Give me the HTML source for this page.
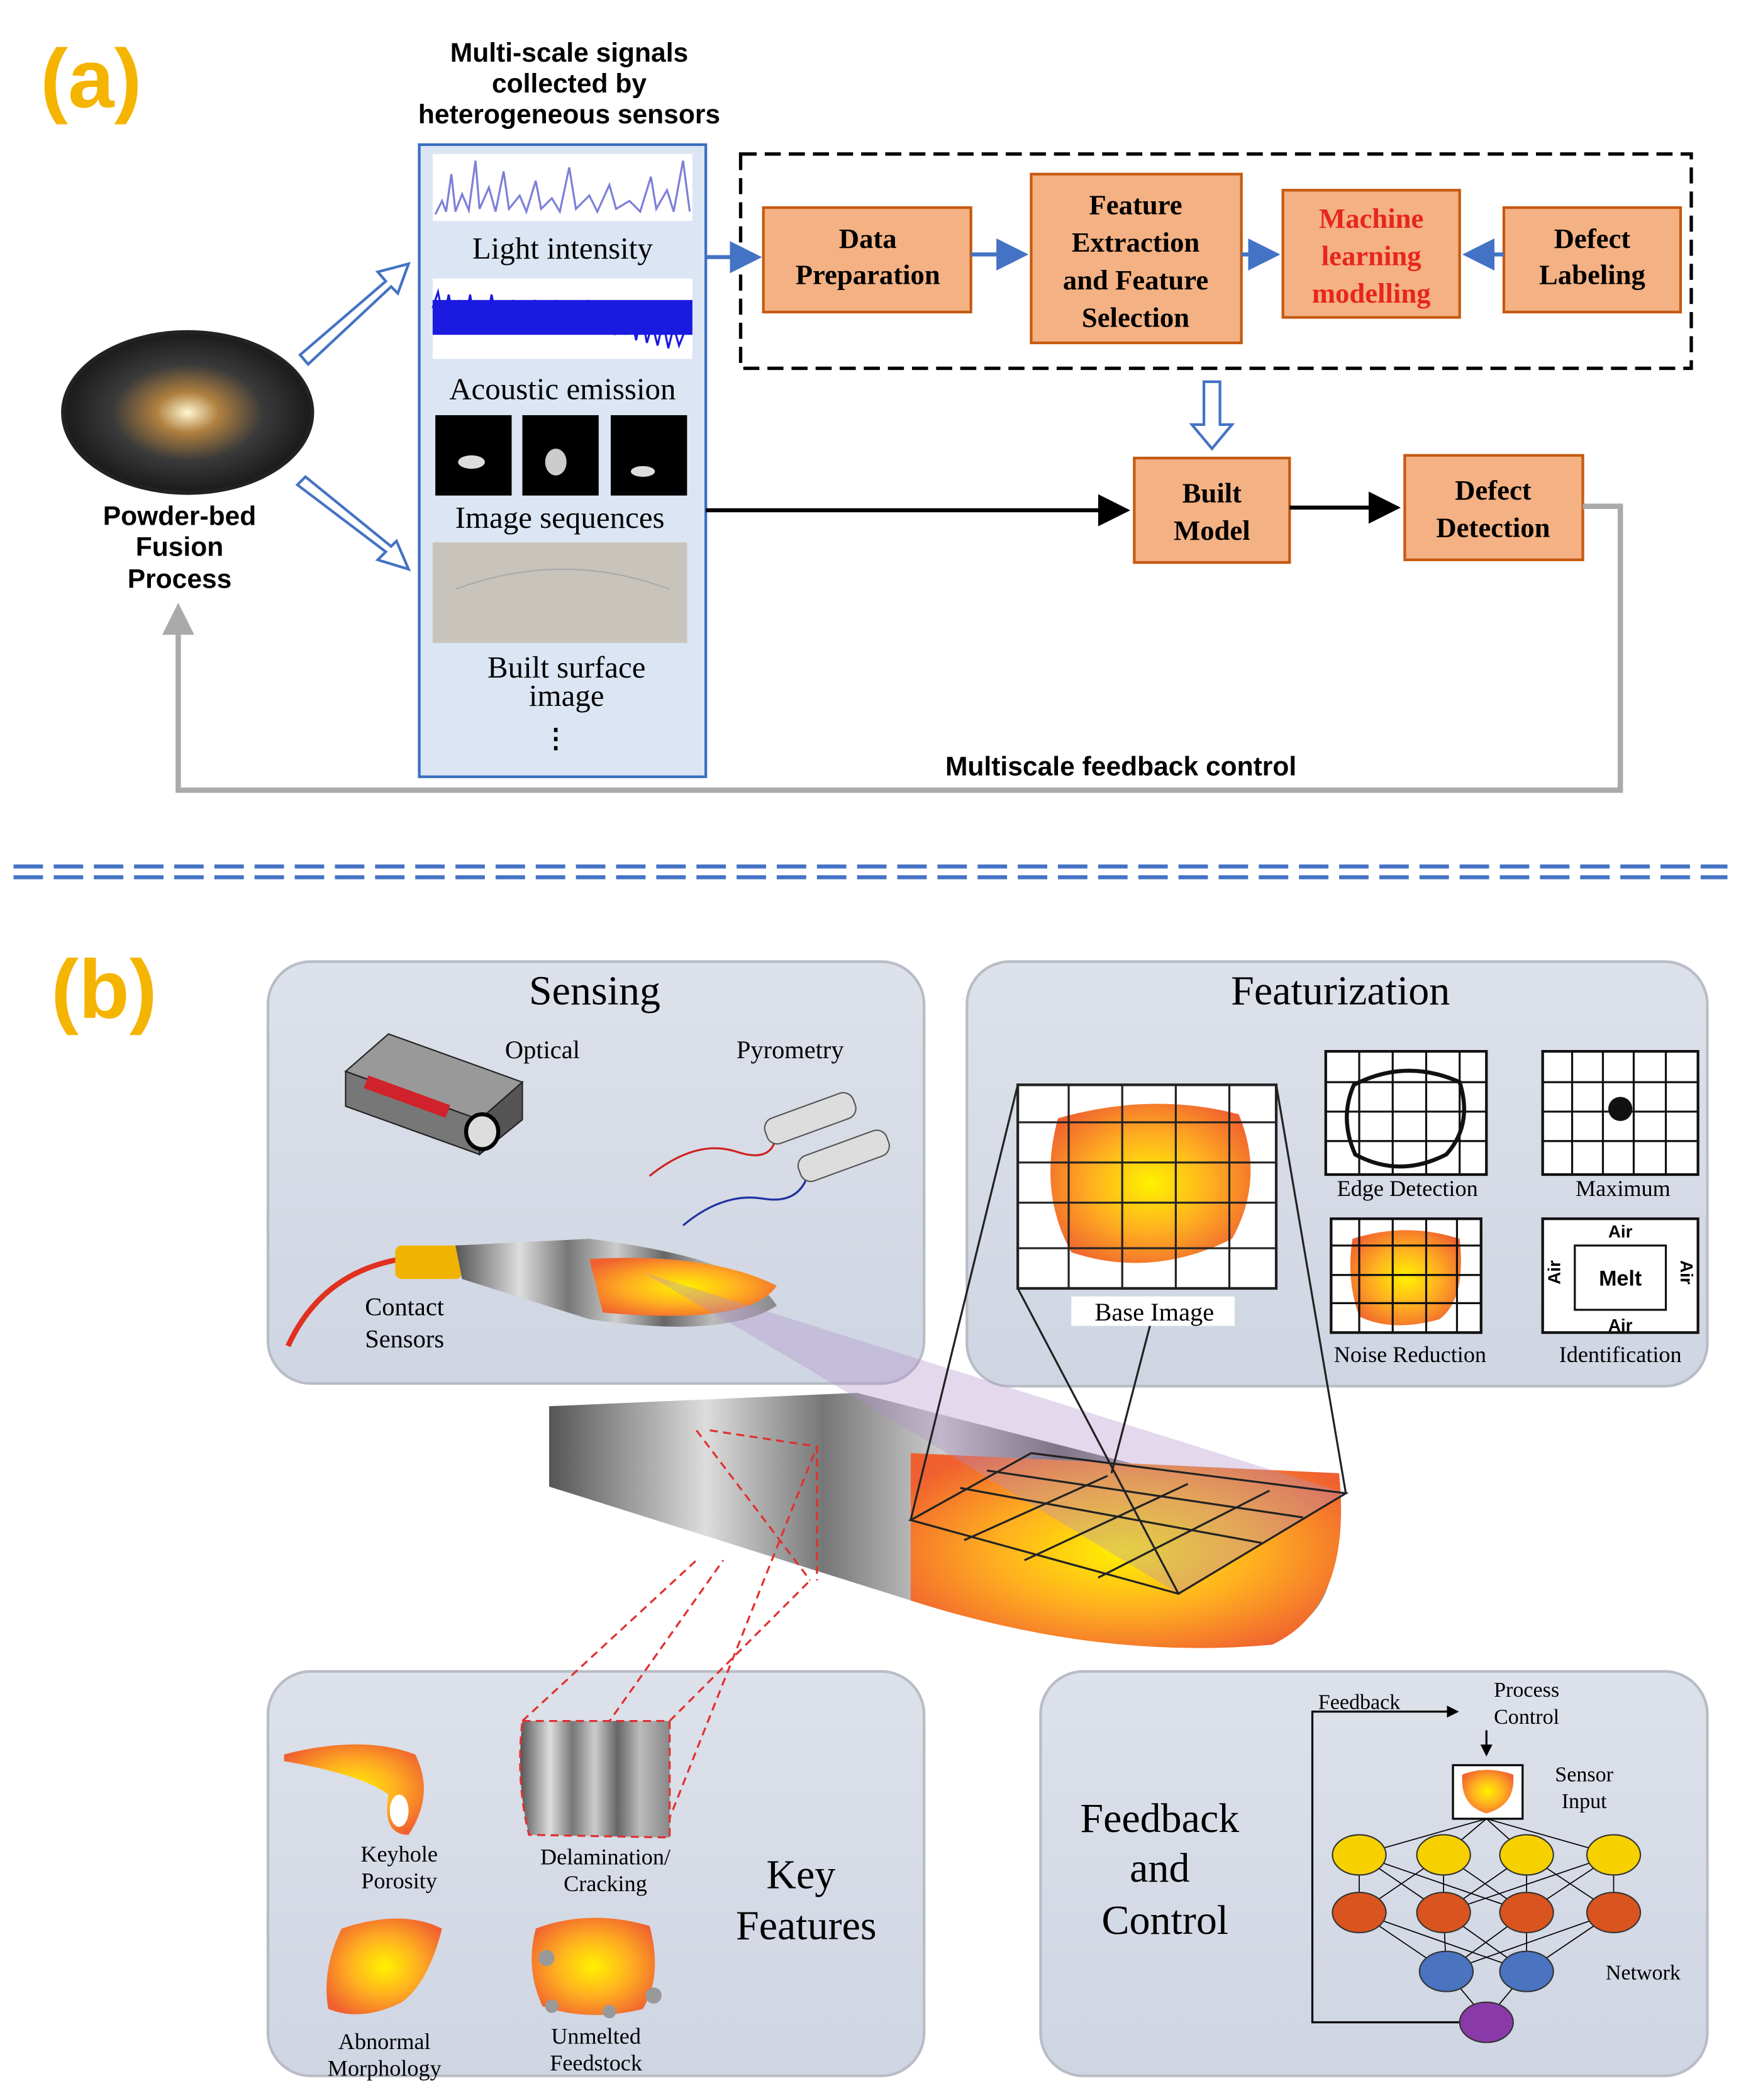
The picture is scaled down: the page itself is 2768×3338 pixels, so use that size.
<!DOCTYPE html>
<html><head><meta charset="utf-8"><style>html,body{margin:0;padding:0;background:#fff}svg{display:block}</style></head><body>
<svg width="2768" height="3338" viewBox="0 0 1300 1568" xmlns="http://www.w3.org/2000/svg" font-family="Liberation Serif, serif">
<defs>
<radialGradient id="melt" cx="50%" cy="50%" r="60%"><stop offset="0" stop-color="#fff200"/><stop offset="0.5" stop-color="#ffb020"/><stop offset="1" stop-color="#f06030"/></radialGradient>
<linearGradient id="track" x1="0" y1="0" x2="1" y2="0"><stop offset="0" stop-color="#555"/><stop offset="0.2" stop-color="#ddd"/><stop offset="0.35" stop-color="#777"/><stop offset="0.5" stop-color="#ccc"/><stop offset="0.65" stop-color="#666"/><stop offset="0.8" stop-color="#bbb"/><stop offset="1" stop-color="#888"/></linearGradient>
<linearGradient id="panel" x1="0" y1="0" x2="0" y2="1"><stop offset="0" stop-color="#dde1ea"/><stop offset="1" stop-color="#cfd5e2"/></linearGradient>
<radialGradient id="spark" cx="50%" cy="50%" r="50%"><stop offset="0" stop-color="#fff6d0"/><stop offset="0.25" stop-color="#b08040"/><stop offset="0.6" stop-color="#3a3a3a"/><stop offset="1" stop-color="#1a1a1a"/></radialGradient>
<marker id="ab" markerWidth="8" markerHeight="8" refX="6" refY="4" orient="auto"><path d="M0,0 L8,4 L0,8z" fill="#4472c4"/></marker>
<marker id="ak" markerWidth="8" markerHeight="8" refX="6" refY="4" orient="auto"><path d="M0,0 L8,4 L0,8z" fill="#000"/></marker>
<marker id="ag" markerWidth="6" markerHeight="6" refX="3" refY="3" orient="auto"><path d="M0,0 L6,3 L0,6z" fill="#aaa"/></marker>
<marker id="ak2" markerWidth="6" markerHeight="6" refX="5" refY="3" orient="auto"><path d="M0,0 L6,3 L0,6z" fill="#000"/></marker>
</defs>

<text x="30" y="80" font-family="Liberation Sans, sans-serif" font-weight="bold" font-size="62" fill="#f5b400">(a)</text>
<g font-family="Liberation Sans, sans-serif" font-weight="bold" font-size="20" text-anchor="middle">
<text x="425" y="46">Multi-scale signals</text><text x="425" y="69">collected by</text><text x="425" y="92">heterogeneous sensors</text>
</g>
<rect x="313" y="108" width="214" height="472" fill="#dbe5f3" stroke="#3a6fc0" stroke-width="2"/>
<rect x="323" y="115" width="194" height="50" fill="#fff"/>
<path d="M325,160 L330,150 L333,158 L337,130 L340,158 L345,145 L350,157 L355,120 L358,156 L365,140 L370,158 L376,128 L380,156 L388,146 L393,158 L400,135 L404,156 L412,148 L418,158 L425,125 L430,156 L440,146 L446,158 L455,138 L460,156 L470,150 L478,158 L486,132 L490,156 L498,142 L503,158 L510,120 L515,158" fill="none" stroke="#7b80d8" stroke-width="1.5"/>
<text x="420" y="193" font-size="23" text-anchor="middle">Light intensity</text>
<rect x="323" y="208" width="194" height="60" fill="#fff"/>
<rect x="323" y="224" width="194" height="26" fill="#1a1ae0"/>
<path d="M323,230 l4,-12 l4,20 l4,-18 l4,22 l4,-16 l4,14 l4,-20 l4,24 l4,-18 l4,16 l4,-22 l4,20 l4,-14 l4,18 l4,-20 l4,22 l4,-16 l4,12 l4,-18 l4,20 l4,-14 l4,16 l4,-22 l4,24 l4,-20 l4,14 l4,-16 l4,18 l4,-20 l4,22 l4,-14 l4,16 l4,-18 l4,20 l4,-16 l4,14 l4,-12 l4,18 l4,-20 l4,22 l4,-14 l4,16 l4,-18 l4,20 l4,-16 l4,14 l4,-10" fill="none" stroke="#1a1ae0" stroke-width="1.5"/>
<text x="420" y="298" font-size="23" text-anchor="middle">Acoustic emission</text>
<rect x="325" y="310" width="57" height="60" fill="#000"/><ellipse cx="352" cy="345" rx="10" ry="5" fill="#ddd"/>
<rect x="390" y="310" width="57" height="60" fill="#000"/><ellipse cx="415" cy="345" rx="8" ry="10" fill="#ccc"/>
<rect x="456" y="310" width="57" height="60" fill="#000"/><ellipse cx="480" cy="352" rx="9" ry="4" fill="#ddd"/>
<text x="418" y="394" font-size="23" text-anchor="middle">Image sequences</text>
<rect x="323" y="405" width="190" height="75" fill="#c8c4bc"/>
<path d="M340,440 Q420,410 500,440" fill="none" stroke="#aaa"/>
<text x="423" y="506" font-size="23" text-anchor="middle">Built surface</text>
<text x="423" y="527" font-size="23" text-anchor="middle">image</text>
<text x="415" y="558" font-size="20" text-anchor="middle" font-weight="bold">⋮</text>

<rect x="553" y="115" width="710" height="160" fill="none" stroke="#000" stroke-width="2.5" stroke-dasharray="12,6"/>
<g fill="#f4b183" stroke="#c55a11" stroke-width="2">
<rect x="570" y="155" width="155" height="78"/><rect x="770" y="130" width="157" height="126"/>
<rect x="958" y="142" width="132" height="95"/><rect x="1123" y="155" width="132" height="78"/>
<rect x="847" y="342" width="116" height="78"/><rect x="1049" y="340" width="133" height="78"/>
</g>
<g font-weight="bold" font-size="21" text-anchor="middle">
<text x="648" y="185">Data</text><text x="648" y="212">Preparation</text>
<text x="848" y="160">Feature</text><text x="848" y="188">Extraction</text><text x="848" y="216">and Feature</text><text x="848" y="244">Selection</text>
<text x="1024" y="170" fill="#e8251f">Machine</text><text x="1024" y="198" fill="#e8251f">learning</text><text x="1024" y="226" fill="#e8251f">modelling</text>
<text x="1189" y="185">Defect</text><text x="1189" y="212">Labeling</text>
<text x="905" y="375">Built</text><text x="905" y="403">Model</text>
<text x="1115" y="373">Defect</text><text x="1115" y="401">Detection</text>
</g>
<g stroke="#4472c4" stroke-width="3" marker-end="url(#ab)">
<line x1="527" y1="192" x2="563" y2="192"/><line x1="725" y1="190" x2="762" y2="190"/>
<line x1="927" y1="190" x2="950" y2="190"/><line x1="1123" y1="190" x2="1098" y2="190"/>
</g>
<path d="M899,285 h12 v32 h9 l-15,18 l-15,-18 h9z" fill="#fff" stroke="#4472c4" stroke-width="2"/>
<line x1="527" y1="381" x2="838" y2="381" stroke="#000" stroke-width="3" marker-end="url(#ak)"/>
<line x1="963" y1="379" x2="1040" y2="379" stroke="#000" stroke-width="3" marker-end="url(#ak)"/>
<path d="M1182,378 H1210 V590 H133 V462" fill="none" stroke="#aaa" stroke-width="4" marker-end="url(#ag)"/>
<text x="837" y="579" font-family="Liberation Sans, sans-serif" font-weight="bold" font-size="20" text-anchor="middle">Multiscale feedback control</text>
<ellipse cx="140" cy="308" rx="93" ry="60" fill="url(#spark)" stroke="#222" stroke-width="3"/>
<g font-family="Liberation Sans, sans-serif" font-weight="bold" font-size="20" text-anchor="middle">
<text x="134" y="392">Powder-bed</text><text x="134" y="415">Fusion</text><text x="134" y="439">Process</text></g>
<path d="M224,265 L288,210 L282,203 L305,197 L297,219 L292,214 L230,272z" fill="#fff" stroke="#4472c4" stroke-width="2"/>
<path d="M222,362 L288,412 L282,418 L305,425 L296,404 L292,408 L228,356z" fill="#fff" stroke="#4472c4" stroke-width="2"/>

<line x1="10" y1="647" x2="1290" y2="647" stroke="#4472c4" stroke-width="3" stroke-dasharray="22,8"/>
<line x1="10" y1="655" x2="1290" y2="655" stroke="#4472c4" stroke-width="3" stroke-dasharray="22,8"/>

<text x="38" y="760" font-family="Liberation Sans, sans-serif" font-weight="bold" font-size="62" fill="#f5b400">(b)</text>
<g fill="url(#panel)" stroke="#b8bcc6" stroke-width="2">
<rect x="200" y="718" width="490" height="315" rx="32"/>
<rect x="722" y="718" width="553" height="317" rx="32"/>
<rect x="200" y="1248" width="490" height="302" rx="32"/>
<rect x="777" y="1248" width="498" height="302" rx="32"/>
</g>
<text x="444" y="750" font-size="31" text-anchor="middle">Sensing</text>
<text x="1001" y="750" font-size="31" text-anchor="middle">Featurization</text>
<text x="405" y="790" font-size="19" text-anchor="middle">Optical</text>
<text x="590" y="790" font-size="19" text-anchor="middle">Pyrometry</text>
<path d="M258,800 L290,772 L390,808 L358,836z" fill="#999" stroke="#222"/>
<path d="M258,800 L358,836 L358,862 L258,826z" fill="#777" stroke="#222"/>
<path d="M358,836 L390,808 L390,836 L358,862z" fill="#555" stroke="#222"/>
<rect x="275" y="803" width="65" height="10" fill="#d0222a" transform="rotate(20 275 803)"/>
<ellipse cx="360" cy="845" rx="12" ry="13" fill="#ddd" stroke="#000" stroke-width="3"/>
<path d="M485,878 Q520,850 550,860 T580,842" fill="none" stroke="#d02020" stroke-width="1.5"/>
<path d="M510,915 Q540,890 570,895 T605,870" fill="none" stroke="#2030a0" stroke-width="1.5"/>
<rect x="570" y="825" width="70" height="20" rx="8" fill="#ddd" stroke="#555" transform="rotate(-20 605 835)"/>
<rect x="595" y="853" width="70" height="20" rx="8" fill="#ddd" stroke="#555" transform="rotate(-20 630 863)"/>
<path d="M215,1005 Q240,950 300,940" fill="none" stroke="#e03020" stroke-width="4"/>
<rect x="295" y="930" width="50" height="25" rx="5" fill="#f0b400"/>
<text x="302" y="982" font-size="19" text-anchor="middle">Contact</text>
<text x="302" y="1006" font-size="19" text-anchor="middle">Sensors</text>

<path d="M340,930 L440,925 Q560,940 580,975 Q540,1000 440,985 L345,955z" fill="url(#track)"/>
<path d="M440,940 Q530,935 580,960 Q560,990 450,980z" fill="url(#melt)"/>
<path d="M410,1050 L640,1040 L990,1130 Q1010,1200 950,1225 Q820,1240 680,1195 L410,1110z" fill="url(#track)"/>
<path d="M680,1085 L1000,1100 Q1010,1200 950,1228 Q820,1240 680,1195z" fill="url(#melt)"/>
<path d="M480,950 L1005,1115 L880,1190 L600,1020z" fill="#b090c8" opacity="0.35"/>
<g stroke="#222" stroke-width="1.5" fill="none">
<path d="M770,1085 L1005,1115 L880,1190 L680,1135z"/>
<path d="M717,1111 L942,1152 M737,1098 L973,1133 M827,1102 L720,1150 M887,1108 L765,1165 M948,1113 L820,1178"/>
<line x1="760" y1="810" x2="680" y2="1135"/><line x1="953" y1="810" x2="1005" y2="1115"/>
<line x1="760" y1="962" x2="880" y2="1190"/><line x1="860" y1="985" x2="830" y2="1100"/>
</g>
<g stroke="#e03030" stroke-width="1.5" fill="none" stroke-dasharray="6,4">
<path d="M520,1068 L605,1180 M530,1068 L610,1080 L610,1180"/>
<line x1="390" y1="1285" x2="520" y2="1165"/><line x1="500" y1="1285" x2="605" y2="1180"/>
<line x1="395" y1="1370" x2="540" y2="1165"/><line x1="495" y1="1370" x2="610" y2="1080"/>
</g>
<rect x="760" y="810" width="193" height="152" fill="#fff" stroke="#222" stroke-width="2"/>
<path d="M790,835 Q860,815 925,832 Q945,880 920,925 Q860,955 800,935 Q775,890 790,835z" fill="url(#melt)"/>
<g stroke="#222" stroke-width="1.5"><path d="M798,810 V962 M838,810 V962 M878,810 V962 M918,810 V962 M760,838 H953 M760,868 H953 M760,898 H953 M760,932 H953"/></g>
<rect x="800" y="968" width="122" height="22" fill="#fff"/>
<text x="862" y="986" font-size="19" text-anchor="middle">Base Image</text>
<g stroke="#111" stroke-width="2" fill="#fff">
<rect x="990" y="785" width="120" height="92"/><rect x="1152" y="785" width="116" height="92"/>
<rect x="994" y="910" width="112" height="85"/><rect x="1152" y="910" width="116" height="85"/>
</g>
<path d="M1011,810 Q1050,790 1090,808 Q1100,840 1080,862 Q1045,880 1012,862 Q1000,835 1011,810z" fill="none" stroke="#111" stroke-width="3"/>
<path d="M1010,925 Q1050,912 1090,925 Q1095,970 1075,985 Q1040,995 1015,983 Q1005,955 1010,925z" fill="url(#melt)"/>
<g stroke="#111" stroke-width="1.5" fill="none">
<path d="M1015,785 V877 M1040,785 V877 M1065,785 V877 M1090,785 V877 M990,808 H1110 M990,830 H1110 M990,852 H1110"/>
<path d="M1174,785 V877 M1197,785 V877 M1220,785 V877 M1244,785 V877 M1152,808 H1268 M1152,830 H1268 M1152,852 H1268"/>
<path d="M1015,910 V995 M1040,910 V995 M1065,910 V995 M1088,910 V995 M994,930 H1106 M994,952 H1106 M994,973 H1106"/>
</g>
<circle cx="1210" cy="828" r="9" fill="#111"/>
<rect x="1176" y="930" width="68" height="48" fill="none" stroke="#111" stroke-width="1.5"/>
<g font-family="Liberation Sans, sans-serif" font-size="13" text-anchor="middle" font-weight="bold">
<text x="1210" y="924">Air</text><text x="1210" y="994">Air</text><text x="1210" y="960" font-size="16">Melt</text>
<text x="1170" y="955" transform="rotate(-90 1165 955)">Air</text><text x="1250" y="955" transform="rotate(90 1255 955)">Air</text>
</g>
<g font-size="17" text-anchor="middle">
<text x="1051" y="893">Edge Detection</text><text x="1212" y="893">Maximum</text>
<text x="1053" y="1017">Noise Reduction</text><text x="1210" y="1017">Identification</text>
</g>

<path d="M212,1310 Q270,1295 310,1310 Q325,1340 305,1370 Q285,1370 290,1340 Q270,1325 212,1315z" fill="url(#melt)"/>
<ellipse cx="298" cy="1352" rx="7" ry="12" fill="#fff"/>
<text x="298" y="1390" font-size="17" text-anchor="middle">Keyhole</text><text x="298" y="1410" font-size="17" text-anchor="middle">Porosity</text>
<path d="M390,1285 L500,1285 L500,1372 L395,1370 Q385,1330 390,1285z" fill="url(#track)" stroke="#e03030" stroke-dasharray="6,4" stroke-width="1.5"/>
<text x="452" y="1392" font-size="17" text-anchor="middle">Delamination/</text><text x="452" y="1412" font-size="17" text-anchor="middle">Cracking</text>
<text x="598" y="1410" font-size="31" text-anchor="middle">Key</text><text x="602" y="1448" font-size="31" text-anchor="middle">Features</text>
<path d="M255,1440 Q300,1425 330,1440 Q320,1480 300,1495 Q270,1510 245,1500 Q240,1470 255,1440z" fill="url(#melt)"/>
<text x="287" y="1530" font-size="17" text-anchor="middle">Abnormal</text><text x="287" y="1550" font-size="17" text-anchor="middle">Morphology</text>
<path d="M400,1440 Q440,1425 485,1438 Q495,1475 480,1500 Q440,1510 405,1498 Q392,1470 400,1440z" fill="url(#melt)"/>
<g fill="#999"><circle cx="408" cy="1462" r="6"/><circle cx="488" cy="1490" r="6"/><circle cx="455" cy="1502" r="5"/><circle cx="412" cy="1498" r="5"/></g>
<text x="445" y="1526" font-size="17" text-anchor="middle">Unmelted</text><text x="445" y="1546" font-size="17" text-anchor="middle">Feedstock</text>

<text x="866" y="1368" font-size="31" text-anchor="middle">Feedback</text>
<text x="866" y="1405" font-size="31" text-anchor="middle">and</text>
<text x="870" y="1444" font-size="31" text-anchor="middle">Control</text>
<text x="1015" y="1276" font-size="16" text-anchor="middle">Feedback</text>
<text x="1140" y="1267" font-size="16" text-anchor="middle">Process</text><text x="1140" y="1287" font-size="16" text-anchor="middle">Control</text>
<text x="1183" y="1330" font-size="16" text-anchor="middle">Sensor</text><text x="1183" y="1350" font-size="16" text-anchor="middle">Input</text>
<text x="1227" y="1478" font-size="16" text-anchor="middle">Network</text>
<path d="M1108,1510 H980 V1278 H1088" fill="none" stroke="#000" stroke-width="1.5" marker-end="url(#ak2)"/>
<line x1="1110" y1="1292" x2="1110" y2="1310" stroke="#000" stroke-width="1.5" marker-end="url(#ak2)"/>
<rect x="1085" y="1318" width="52" height="40" fill="#fff" stroke="#000" stroke-width="1.5"/>
<path d="M1092,1325 Q1110,1318 1130,1325 Q1132,1348 1110,1354 Q1090,1348 1092,1325z" fill="url(#melt)"/>
<g stroke="#000" stroke-width="0.8" fill="none">
<path d="M1015,1385 L1015,1428 M1078,1385 L1078,1428 M1140,1385 L1140,1428 M1205,1385 L1205,1428 M1078,1385 L1015,1428 M1078,1385 L1140,1428 M1140,1385 L1078,1428 M1140,1385 L1205,1428 M1205,1385 L1140,1428 M1015,1385 L1140,1428 M1205,1385 L1078,1428 M1015,1385 L1078,1428 M1015,1428 L1080,1472 M1015,1428 L1140,1472 M1078,1428 L1080,1472 M1078,1428 L1140,1472 M1140,1428 L1080,1472 M1140,1428 L1140,1472 M1205,1428 L1140,1472 M1205,1428 L1080,1472 M1080,1472 L1110,1508 M1140,1472 L1110,1508 M1110,1358 L1015,1385 M1110,1358 L1078,1385 M1110,1358 L1140,1385 M1110,1358 L1205,1385"/>
</g>
<g stroke="#333" stroke-width="1">
<g fill="#f7d000"><ellipse cx="1015" cy="1385" rx="20" ry="15"/><ellipse cx="1078" cy="1385" rx="20" ry="15"/><ellipse cx="1140" cy="1385" rx="20" ry="15"/><ellipse cx="1205" cy="1385" rx="20" ry="15"/></g>
<g fill="#d9541e"><ellipse cx="1015" cy="1428" rx="20" ry="15"/><ellipse cx="1078" cy="1428" rx="20" ry="15"/><ellipse cx="1140" cy="1428" rx="20" ry="15"/><ellipse cx="1205" cy="1428" rx="20" ry="15"/></g>
<g fill="#4a73c0"><ellipse cx="1080" cy="1472" rx="20" ry="15"/><ellipse cx="1140" cy="1472" rx="20" ry="15"/></g>
<ellipse cx="1110" cy="1510" rx="20" ry="15" fill="#8a3aa8"/>
</g>
</svg>
</body></html>
